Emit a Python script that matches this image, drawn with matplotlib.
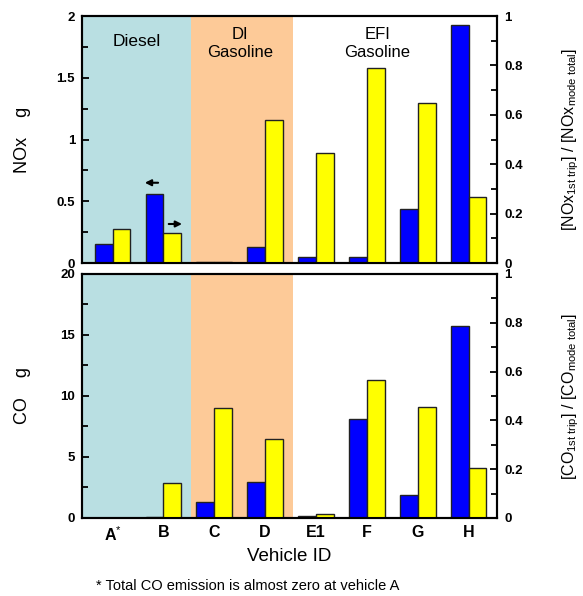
import numpy as np
import matplotlib.pyplot as plt
from matplotlib.ticker import MultipleLocator

plt.rcParams['font.family'] = ['Liberation Sans', 'DejaVu Sans']
plt.rcParams['mathtext.fontset'] = 'custom'
plt.rcParams['mathtext.rm'] = 'Liberation Sans'
plt.rcParams['mathtext.it'] = 'Liberation Sans'
plt.rcParams['mathtext.bf'] = 'Liberation Sans:bold'

# Data
vehicles = ['A$^{*}$', 'B', 'C', 'D', 'E1', 'F', 'G', 'H']
nox_g = [0.15, 0.56, 0.01, 0.13, 0.05, 0.045, 0.435, 1.93]
nox_ratio = [0.136, 0.12, 0.005, 0.578, 0.447, 0.789, 0.647, 0.268]
co_g = [0.0, 0.05, 1.31, 2.92, 0.16, 8.1, 1.89, 15.75]
co_ratio = [0.0, 0.142, 0.45, 0.323, 0.016, 0.565, 0.454, 0.205]

nox_ticks = [0, 0.5, 1, 1.5, 2]
nox_labels = ['0', '0.5', '1', '1.5', '2']
co_ticks = [0, 5, 10, 15, 20]
co_labels = ['0', '5', '10', '15', '20']
ratio_ticks = [0, 0.2, 0.4, 0.6, 0.8, 1]
ratio_labels = ['0', '0.2', '0.4', '0.6', '0.8', '1']

cyan = '#b9dfe2'
orange = '#fdca98'

x = np.arange(len(vehicles))
w = 0.35

fig = plt.figure(figsize=(5.83, 5.96), dpi=100)
ax1 = fig.add_axes([0.1407, 0.5587, 0.712, 0.4144])
ax2 = fig.add_axes([0.1407, 0.1309, 0.712, 0.4094])


def style_y(ax, ticks, labels, minor):
    ax.set_yticks(ticks, labels, fontweight='bold')
    ax.yaxis.set_minor_locator(MultipleLocator(minor))
    ax.tick_params(axis='y', which='both', direction='in', labelsize=9.5, pad=5, width=1.3)
    ax.tick_params(axis='y', which='major', length=5)
    ax.tick_params(axis='y', which='minor', length=4)
    for s in ax.spines.values():
        s.set_linewidth(1.5)


def panel(ax, left_vals, right_vals, ymax, ticks, labels, ylabel, rlabel, show_x):
    ax.set_xlim(-0.6, 7.56)
    ax.axvspan(-0.6, 1.55, color=cyan, lw=0, zorder=0)
    ax.axvspan(1.55, 3.55, color=orange, lw=0, zorder=0)
    ax.bar(x - w / 2, left_vals, w, color='#0000ff', edgecolor='#222222', lw=1.0, zorder=2)
    style_y(ax, ticks, labels, ticks[1] / 2)
    ax.set_ylim(0, ymax)
    ax.set_ylabel(ylabel, fontsize=13)
    ax.yaxis.set_label_coords(-0.123, 0.5)
    ax.set_xticks(x)
    if show_x:
        ax.set_xticklabels(vehicles, fontsize=11.5, fontweight='bold',
                           family=['Liberation Sans Narrow', 'Liberation Sans'])
        ax.tick_params(axis='x', length=0, pad=5)
    else:
        ax.set_xticklabels([])
        ax.tick_params(axis='x', length=0)

    tw = ax.twinx()
    tw.bar(x + w / 2, right_vals, w, color='#ffff00', edgecolor='#222222', lw=1.0, zorder=2)
    style_y(tw, ratio_ticks, ratio_labels, 0.1)
    tw.set_ylim(0, 1)
    tw.set_ylabel(rlabel, fontsize=11.5, rotation=90)
    tw.yaxis.set_label_coords(1.152, 0.5)
    return tw


t1 = panel(ax1, nox_g, nox_ratio, 2, nox_ticks, nox_labels, 'NOx    g',
           r'[NOx$_{\rm 1st\ trip}$] / [NOx$_{\rm mode\ total}$]', False)
t2 = panel(ax2, co_g, co_ratio, 20, co_ticks, co_labels, 'CO    g',
           r'[CO$_{\rm 1st\ trip}$] / [CO$_{\rm mode\ total}$]', True)

# Region labels
ax1.text(0.48, 1.79, 'Diesel', ha='center', va='center', fontsize=12.5, zorder=5)
ax1.text(2.51, 1.78, 'DI\nGasoline', ha='center', va='center', fontsize=12,
         linespacing=1.25, zorder=5)
ax1.text(5.21, 1.78, 'EFI\nGasoline', ha='center', va='center', fontsize=12,
         linespacing=1.25, zorder=5)

# Arrows showing which axis applies
t1.annotate('', xy=(0.58, 0.325), xytext=(0.95, 0.325),
            arrowprops=dict(arrowstyle='-|>', color='black', lw=1.5, mutation_scale=9), zorder=5)
t1.annotate('', xy=(1.42, 0.158), xytext=(1.05, 0.158),
            arrowprops=dict(arrowstyle='-|>', color='black', lw=1.5, mutation_scale=9), zorder=5)

ax2.set_xlabel('Vehicle ID', fontsize=13.5, labelpad=3)
fig.text(0.165, 0.01, '* Total CO emission is almost zero at vehicle A', fontsize=10.5)

fig.savefig('out.png', dpi=100)
